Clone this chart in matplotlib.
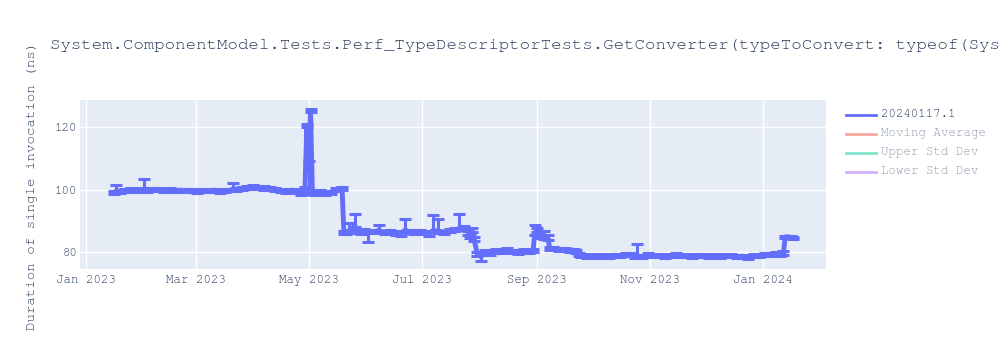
import matplotlib
matplotlib.use('Agg')
import matplotlib.pyplot as plt
import matplotlib.dates as mdates
from matplotlib.lines import Line2D
import numpy as np
import pandas as pd

plt.rcParams['font.family'] = ['FreeMono', 'Courier Prime', 'DejaVu Sans Mono']

TITLE = "System.ComponentModel.Tests.Perf_TypeDescriptorTests.GetConverter(typeToConvert: typeof(System.Guid))"
Y_LABEL = "Duration of single invocation (ns)"
SERIES_NAME = "20240117.1"
HIDDEN_NAMES = ["Moving Average", "Upper Std Dev", "Lower Std Dev"]
HIDDEN_COLORS = ["#EF553B", "#00cc96", "#ab63fa"]

# (date, value, err below, err above)
points = [
    ("2023-01-16", 99.2, 0.4, 0.4), ("2023-01-17", 99.4, 0.3, 2.1), ("2023-01-19", 99.6, 0.5, 0.5),
    ("2023-01-22", 99.9, 0.5, 0.5), ("2023-01-25", 100.0, 0.5, 0.5), ("2023-01-28", 99.9, 0.5, 0.5),
    ("2023-01-31", 100.1, 0.5, 0.5), ("2023-02-01", 100.0, 0.4, 3.5), ("2023-02-03", 99.8, 0.5, 0.5),
    ("2023-02-06", 100.1, 0.5, 0.5), ("2023-02-09", 100.0, 0.5, 0.5), ("2023-02-12", 99.9, 0.5, 0.5),
    ("2023-02-15", 100.0, 0.5, 0.5), ("2023-02-18", 99.8, 0.5, 0.5), ("2023-02-21", 99.9, 0.5, 0.5),
    ("2023-02-24", 99.7, 0.5, 0.5), ("2023-02-27", 99.8, 0.5, 0.5), ("2023-03-02", 99.6, 0.5, 0.5),
    ("2023-03-05", 99.8, 0.5, 0.5), ("2023-03-08", 99.7, 0.5, 0.5), ("2023-03-11", 99.9, 0.5, 0.5),
    ("2023-03-14", 99.6, 0.5, 0.5), ("2023-03-17", 99.8, 0.5, 0.5), ("2023-03-21", 99.9, 0.4, 2.2),
    ("2023-03-23", 100.2, 0.5, 0.5), ("2023-03-26", 100.5, 0.5, 0.5), ("2023-03-29", 100.8, 0.5, 0.5),
    ("2023-04-01", 100.9, 0.5, 0.5), ("2023-04-04", 100.8, 0.5, 0.5), ("2023-04-07", 100.6, 0.5, 0.5),
    ("2023-04-10", 100.3, 0.5, 0.5), ("2023-04-13", 100.0, 0.5, 0.5), ("2023-04-16", 99.7, 0.5, 0.5),
    ("2023-04-19", 99.5, 0.6, 0.5), ("2023-04-22", 99.9, 0.5, 0.5), ("2023-04-25", 99.6, 0.5, 0.5),
    ("2023-04-27", 99.2, 0.7, 0.5), ("2023-04-28", 99.8, 0.5, 0.5), ("2023-04-29", 100.2, 0.5, 0.8),
    ("2023-04-30", 120.5, 0.5, 0.4), ("2023-05-01", 109.0, 9.0, 0.3), ("2023-05-02", 125.3, 0.5, 0.6),
    ("2023-05-03", 99.3, 0.5, 0.5), ("2023-05-04", 98.9, 0.6, 0.5), ("2023-05-07", 99.4, 0.5, 0.5),
    ("2023-05-10", 98.8, 0.5, 0.5), ("2023-05-13", 99.2, 0.5, 0.5), ("2023-05-16", 100.2, 0.5, 0.5),
    ("2023-05-19", 100.5, 0.5, 0.3), ("2023-05-20", 86.3, 0.5, 0.5), ("2023-05-21", 86.5, 0.5, 0.5),
    ("2023-05-23", 87.0, 0.5, 2.5), ("2023-05-26", 88.5, 0.5, 3.8), ("2023-05-27", 86.8, 0.5, 0.5),
    ("2023-05-29", 86.5, 0.5, 0.5), ("2023-05-31", 86.9, 0.5, 0.5), ("2023-06-02", 86.2, 2.8, 0.5),
    ("2023-06-05", 86.6, 0.5, 0.5), ("2023-06-08", 87.0, 0.5, 1.8), ("2023-06-11", 86.4, 0.5, 0.5),
    ("2023-06-14", 86.8, 0.5, 0.5), ("2023-06-17", 86.2, 0.5, 0.5), ("2023-06-20", 86.0, 0.6, 0.5),
    ("2023-06-22", 87.2, 0.5, 3.5), ("2023-06-24", 86.6, 0.5, 0.5), ("2023-06-27", 86.3, 0.5, 0.5),
    ("2023-06-30", 86.7, 0.5, 0.5), ("2023-07-02", 86.4, 0.5, 0.5), ("2023-07-05", 86.0, 0.7, 0.5),
    ("2023-07-07", 87.0, 0.5, 4.8), ("2023-07-10", 86.8, 0.5, 3.8), ("2023-07-13", 86.5, 0.5, 0.5),
    ("2023-07-16", 87.0, 0.5, 0.5), ("2023-07-19", 87.2, 0.5, 0.5), ("2023-07-21", 87.6, 0.5, 4.6),
    ("2023-07-24", 87.8, 0.5, 0.5), ("2023-07-26", 86.5, 1.0, 0.5), ("2023-07-27", 85.0, 0.5, 0.5),
    ("2023-07-28", 87.0, 0.5, 0.8), ("2023-07-29", 84.5, 1.0, 0.5), ("2023-07-31", 79.5, 0.6, 0.5),
    ("2023-08-02", 78.6, 1.3, 0.5), ("2023-08-04", 80.3, 0.5, 0.5), ("2023-08-07", 79.8, 0.5, 0.5),
    ("2023-08-10", 80.6, 0.5, 0.5), ("2023-08-13", 80.4, 0.5, 0.5), ("2023-08-16", 80.8, 0.5, 0.5),
    ("2023-08-19", 80.2, 0.5, 0.5), ("2023-08-22", 79.9, 0.5, 0.5), ("2023-08-25", 80.5, 0.5, 0.5),
    ("2023-08-28", 80.2, 0.5, 0.5), ("2023-08-30", 80.7, 0.5, 0.5), ("2023-08-31", 86.2, 0.5, 2.5),
    ("2023-09-01", 87.0, 0.5, 0.9), ("2023-09-03", 85.2, 0.5, 0.5), ("2023-09-05", 84.8, 0.5, 2.0),
    ("2023-09-07", 84.6, 0.5, 1.0), ("2023-09-08", 81.3, 0.5, 0.5), ("2023-09-10", 81.2, 0.5, 0.5),
    ("2023-09-13", 81.0, 0.5, 0.5), ("2023-09-16", 80.8, 0.5, 0.5), ("2023-09-19", 80.6, 0.5, 0.5),
    ("2023-09-21", 80.7, 0.5, 0.5), ("2023-09-22", 80.2, 0.5, 0.5), ("2023-09-24", 79.4, 0.5, 0.5),
    ("2023-09-25", 79.0, 0.5, 0.5), ("2023-09-28", 78.8, 0.5, 0.5), ("2023-10-01", 79.0, 0.5, 0.5),
    ("2023-10-04", 78.7, 0.5, 0.5), ("2023-10-07", 78.9, 0.5, 0.5), ("2023-10-10", 78.8, 0.5, 0.5),
    ("2023-10-13", 79.1, 0.5, 0.5), ("2023-10-16", 78.9, 0.5, 0.5), ("2023-10-19", 79.2, 0.5, 0.5),
    ("2023-10-22", 79.3, 0.5, 0.5), ("2023-10-24", 78.8, 0.5, 0.5), ("2023-10-25", 79.0, 0.5, 3.7),
    ("2023-10-28", 78.6, 0.5, 0.5), ("2023-10-31", 79.2, 0.5, 0.5), ("2023-11-03", 78.9, 0.5, 0.5),
    ("2023-11-06", 79.1, 0.5, 0.5), ("2023-11-09", 78.6, 0.5, 0.5), ("2023-11-12", 79.0, 0.5, 0.5),
    ("2023-11-15", 79.3, 0.5, 0.5), ("2023-11-18", 78.9, 0.5, 0.5), ("2023-11-21", 79.0, 0.5, 0.5),
    ("2023-11-24", 78.8, 0.5, 0.5), ("2023-11-27", 79.1, 0.5, 0.5), ("2023-11-30", 78.9, 0.5, 0.5),
    ("2023-12-03", 78.7, 0.5, 0.5), ("2023-12-06", 79.0, 0.5, 0.5), ("2023-12-09", 78.8, 0.5, 0.5),
    ("2023-12-12", 79.0, 0.5, 0.5), ("2023-12-15", 78.9, 0.5, 0.5), ("2023-12-18", 78.6, 0.5, 0.5),
    ("2023-12-21", 78.8, 0.5, 0.5), ("2023-12-24", 78.4, 0.5, 0.5), ("2023-12-27", 78.9, 0.5, 0.5),
    ("2023-12-30", 79.0, 0.5, 0.5), ("2024-01-02", 79.3, 0.5, 0.5), ("2024-01-05", 79.2, 0.5, 0.5),
    ("2024-01-08", 79.6, 0.5, 0.5), ("2024-01-10", 79.5, 0.5, 0.5), ("2024-01-12", 79.8, 0.5, 0.5),
    ("2024-01-13", 84.9, 0.3, 0.3), ("2024-01-14", 85.0, 0.3, 0.2), ("2024-01-16", 84.8, 0.3, 0.3),
    ("2024-01-17", 84.6, 0.3, 0.3),
]

dates = pd.to_datetime([p[0] for p in points])
values = np.array([p[1] for p in points])
err_lo = np.array([p[2] for p in points])
err_hi = np.array([p[3] for p in points])

BLUE = '#636efa'
TEXT = '#2a3f5f'

fig = plt.figure(figsize=(10, 3.5), dpi=100)
ax = fig.add_axes([0.08, 1 - 269 / 350, 0.746, 169 / 350])
ax.set_facecolor('#E5ECF6')

ax.errorbar(dates, values, yerr=[err_lo, err_hi], fmt='-', color=BLUE, lw=3.5,
            elinewidth=2.2, capsize=4, capthick=2.2, zorder=3)

ax.set_xlim(pd.Timestamp('2022-12-28 16:00'), pd.Timestamp('2024-02-04'))
ax.set_ylim(74.7, 128.7)
ax.set_yticks([80, 100, 120])
ax.xaxis.set_major_locator(mdates.MonthLocator(bymonth=[1, 3, 5, 7, 9, 11]))
ax.xaxis.set_major_formatter(mdates.DateFormatter('%b %Y'))

ax.grid(True, color='white', lw=1)
ax.set_axisbelow(True)
for s in ax.spines.values():
    s.set_visible(False)
ax.tick_params(length=0, labelsize=9, labelcolor=TEXT, pad=4)
ax.tick_params(axis='y', pad=2)

fig.text(0.05, 1 - 46 / 350, TITLE, fontsize=12.5, color=TEXT, va='center', ha='left')
fig.text(0.033, 1 - 186 / 350, Y_LABEL, fontsize=10.2, color=TEXT, rotation=90,
         va='center', ha='center')

# legend drawn by hand (hidden traces greyed out like plotly's legendonly)
names = [SERIES_NAME] + HIDDEN_NAMES
colors = [BLUE] + HIDDEN_COLORS
for i, (name, col) in enumerate(zip(names, colors)):
    y = 1 - (115 + 19 * i) / 350
    alpha = 1.0 if i == 0 else 0.5
    fig.add_artist(Line2D([0.846, 0.876], [y, y], color=col, lw=2, alpha=alpha,
                          transform=fig.transFigure))
    fig.text(0.881, y, name, fontsize=9, color=TEXT, alpha=alpha, va='center', ha='left')

fig.savefig('out.png', dpi=100, facecolor='white')
